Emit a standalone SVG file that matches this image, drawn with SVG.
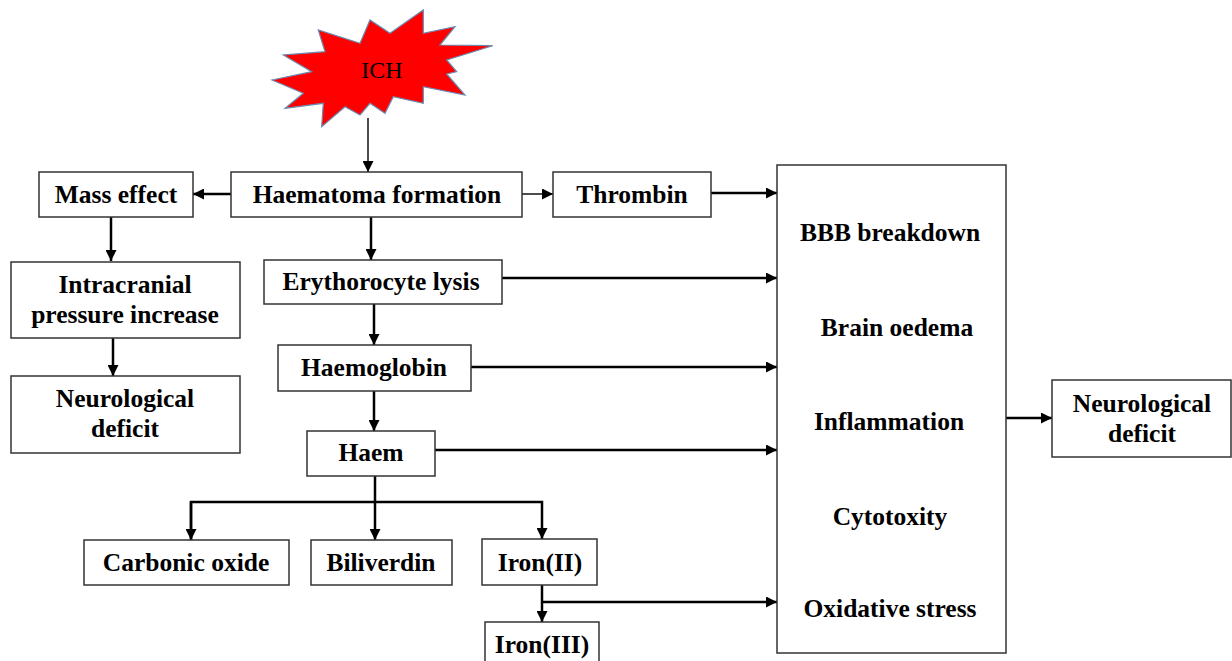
<svg xmlns="http://www.w3.org/2000/svg" width="1232" height="661" viewBox="0 0 1232 661">
<style>
.box{fill:#fff;stroke:#333;stroke-width:1.5}
.t{font-family:"Liberation Serif","Times New Roman",serif;font-weight:bold;font-size:25.5px;fill:#000;text-anchor:middle}
.c{fill:none;stroke:#000;stroke-width:2.5}
.thin{stroke-width:1.4}
</style>
<defs>
<marker id="ah" viewBox="0 0 10 10" refX="10" refY="5" markerWidth="11" markerHeight="11" markerUnits="userSpaceOnUse" orient="auto"><path d="M0,0 L10,5 L0,10 z" fill="#000"/></marker>
</defs>
<rect width="1232" height="661" fill="#fff"/>
<g id="ich">
<polygon points="272,80 311.7,71.7 283.3,55 325,51.7 318.3,30 360,43.3 370,20 390,33.3 423.3,10 423.3,33.3 455,26.7 440,45 492.7,45.7 446.7,60 456.7,71.7 446.7,74 465,95 423.3,86.7 423.3,103.3 393.3,96.7 385,113.3 370,103.3 360,115 345,106.7 321.7,126.7 323.3,103.3 285,108.3 303.3,93.3" fill="#ff0000" stroke="#6a8bb0" stroke-width="1.2" stroke-linejoin="miter"/>
<text x="382" y="78" font-family="Liberation Serif, serif" font-size="24" text-anchor="middle">ICH</text>
</g>
<g id="connectors">
<path class="c thin" d="M368,118 V172" marker-end="url(#ah)"/>
<path class="c" d="M231,194 H193" marker-end="url(#ah)"/>
<path class="c thin" d="M522,194 H553" marker-end="url(#ah)"/>
<path class="c" d="M711,193 H777" marker-end="url(#ah)"/>
<path class="c" d="M371,217 V260" marker-end="url(#ah)"/>
<path class="c" d="M502,278 H777" marker-end="url(#ah)"/>
<path class="c" d="M374,304 V345" marker-end="url(#ah)"/>
<path class="c" d="M471,367 H777" marker-end="url(#ah)"/>
<path class="c" d="M374,391 V431" marker-end="url(#ah)"/>
<path class="c" d="M435,450 H777" marker-end="url(#ah)"/>
<path class="c" d="M375,476 V540" marker-end="url(#ah)"/>
<path class="c" d="M191,540 V502 H542 V539" marker-end="url(#ah)"/>
<path class="c" d="M191,502 V540" marker-end="url(#ah)"/>
<path class="c" d="M111,217 V261" marker-end="url(#ah)"/>
<path class="c" d="M113,338 V376" marker-end="url(#ah)"/>
<path class="c" d="M542,585 V622" marker-end="url(#ah)"/>
<path class="c" d="M542,602 H777" marker-end="url(#ah)"/>
<path class="c" d="M1006,418 H1052" marker-end="url(#ah)"/>
</g>
<g id="mass-effect"><rect class="box" x="39" y="172" width="154" height="45"/><text class="t" x="116" y="203">Mass effect</text></g>
<g id="haematoma"><rect class="box" x="231" y="172" width="291" height="45"/><text class="t" x="377" y="203">Haematoma formation</text></g>
<g id="thrombin"><rect class="box" x="553" y="172" width="158" height="45"/><text class="t" x="632" y="203">Thrombin</text></g>
<g id="intracranial"><rect class="box" x="11" y="262" width="229" height="76"/><text class="t" x="125" y="293">Intracranial</text><text class="t" x="125" y="323">pressure increase</text></g>
<g id="neuro-left"><rect class="box" x="11" y="376" width="229" height="77"/><text class="t" x="125" y="407">Neurological</text><text class="t" x="125" y="437">deficit</text></g>
<g id="erythrocyte"><rect class="box" x="264" y="260" width="238" height="44"/><text class="t" x="381" y="290">Erythorocyte lysis</text></g>
<g id="haemoglobin"><rect class="box" x="278" y="345" width="193" height="46"/><text class="t" x="374" y="376">Haemoglobin</text></g>
<g id="haem"><rect class="box" x="307" y="431" width="128" height="45"/><text class="t" x="371" y="461">Haem</text></g>
<g id="carbonic"><rect class="box" x="84" y="540" width="205" height="45"/><text class="t" x="186" y="571">Carbonic oxide</text></g>
<g id="biliverdin"><rect class="box" x="311" y="540" width="141" height="45"/><text class="t" x="381" y="571">Biliverdin</text></g>
<g id="iron2"><rect class="box" x="482" y="539" width="115" height="46"/><text class="t" x="540" y="571">Iron(II)</text></g>
<g id="iron3"><rect class="box" x="485" y="622" width="114" height="50"/><text class="t" x="542" y="653">Iron(III)</text></g>
<g id="outcomes"><rect class="box" x="777" y="165" width="229" height="488"/>
<text class="t" x="890" y="241">BBB breakdown</text>
<text class="t" x="897" y="336">Brain oedema</text>
<text class="t" x="889" y="430">Inflammation</text>
<text class="t" x="890" y="525">Cytotoxity</text>
<text class="t" x="890" y="617">Oxidative stress</text>
</g>
<g id="neuro-right"><rect class="box" x="1052" y="380" width="179" height="77"/><text class="t" x="1142" y="412">Neurological</text><text class="t" x="1142" y="442">deficit</text></g>
</svg>
